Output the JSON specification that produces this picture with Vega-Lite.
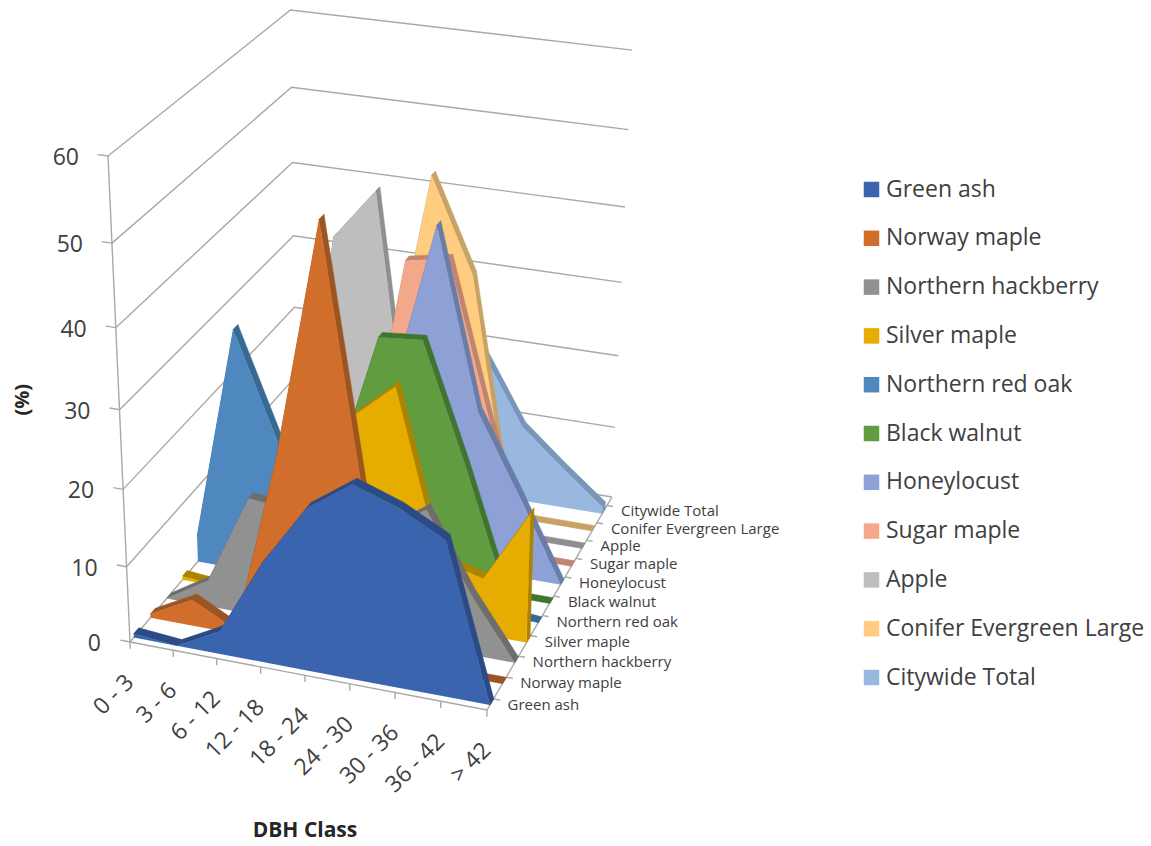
{
"$schema":"https://vega.github.io/schema/vega-lite/v6.json",
"width":1151,"height":846,"padding":0,
"autosize":{"type":"fit","contains":"padding"},
"background":"white",
"config":{"view":{"stroke":null},"text":{"font":"Open Sans"},"legend":{"labelFont":"Open Sans"}},
"datasets":{
"frame":[
{"edge":"grid 0","level":0,"corner":"front left"},{"edge":"grid 0","level":0,"corner":"back left"},{"edge":"grid 0","level":0,"corner":"back right"},
{"edge":"grid 10","level":10,"corner":"front left"},{"edge":"grid 10","level":10,"corner":"back left"},{"edge":"grid 10","level":10,"corner":"back right"},
{"edge":"grid 20","level":20,"corner":"front left"},{"edge":"grid 20","level":20,"corner":"back left"},{"edge":"grid 20","level":20,"corner":"back right"},
{"edge":"grid 30","level":30,"corner":"front left"},{"edge":"grid 30","level":30,"corner":"back left"},{"edge":"grid 30","level":30,"corner":"back right"},
{"edge":"grid 40","level":40,"corner":"front left"},{"edge":"grid 40","level":40,"corner":"back left"},{"edge":"grid 40","level":40,"corner":"back right"},
{"edge":"grid 50","level":50,"corner":"front left"},{"edge":"grid 50","level":50,"corner":"back left"},{"edge":"grid 50","level":50,"corner":"back right"},
{"edge":"grid 60","level":60,"corner":"front left"},{"edge":"grid 60","level":60,"corner":"back left"},{"edge":"grid 60","level":60,"corner":"back right"},
{"edge":"value axis","level":0,"corner":"front left"},{"edge":"value axis","level":60,"corner":"front left"},
{"edge":"dbh axis","level":0,"corner":"front left"},{"edge":"dbh axis","level":0,"corner":"front right"},
{"edge":"species axis","level":0,"corner":"front right"},{"edge":"species axis","level":0,"corner":"back right"}
],
"percentLevels":[{"level":0},{"level":10},{"level":20},{"level":30},{"level":40},{"level":50},{"level":60}],
"dbhClasses":[{"dbh":"0 - 3"},{"dbh":"3 - 6"},{"dbh":"6 - 12"},{"dbh":"12 - 18"},{"dbh":"18 - 24"},{"dbh":"24 - 30"},{"dbh":"30 - 36"},{"dbh":"36 - 42"},{"dbh":"> 42"}],
"speciesList":[{"species":"Green ash"},{"species":"Norway maple"},{"species":"Northern hackberry"},{"species":"Silver maple"},{"species":"Northern red oak"},{"species":"Black walnut"},{"species":"Honeylocust"},{"species":"Sugar maple"},{"species":"Apple"},{"species":"Conifer Evergreen Large"},{"species":"Citywide Total"}],
"shares":[
{"species":"Green ash","dbh":"0 - 3","value":0.5},{"species":"Green ash","dbh":"3 - 6","value":0},{"species":"Green ash","dbh":"6 - 12","value":3},{"species":"Green ash","dbh":"12 - 18","value":13},{"species":"Green ash","dbh":"18 - 24","value":21},{"species":"Green ash","dbh":"24 - 30","value":25},{"species":"Green ash","dbh":"30 - 36","value":23},{"species":"Green ash","dbh":"36 - 42","value":20},{"species":"Green ash","dbh":"> 42","value":0},
{"species":"Norway maple","dbh":"0 - 3","value":0.5},{"species":"Norway maple","dbh":"3 - 6","value":3.5},{"species":"Norway maple","dbh":"6 - 12","value":0.5},{"species":"Norway maple","dbh":"12 - 18","value":24},{"species":"Norway maple","dbh":"18 - 24","value":53.6},{"species":"Norway maple","dbh":"24 - 30","value":18},{"species":"Norway maple","dbh":"30 - 36","value":0},{"species":"Norway maple","dbh":"36 - 42","value":0},{"species":"Norway maple","dbh":"> 42","value":0},
{"species":"Northern hackberry","dbh":"0 - 3","value":0},{"species":"Northern hackberry","dbh":"3 - 6","value":3.5},{"species":"Northern hackberry","dbh":"6 - 12","value":15.5},{"species":"Northern hackberry","dbh":"12 - 18","value":15},{"species":"Northern hackberry","dbh":"18 - 24","value":14},{"species":"Northern hackberry","dbh":"24 - 30","value":14},{"species":"Northern hackberry","dbh":"30 - 36","value":18},{"species":"Northern hackberry","dbh":"36 - 42","value":8},{"species":"Northern hackberry","dbh":"> 42","value":0},
{"species":"Silver maple","dbh":"0 - 3","value":0.5},{"species":"Silver maple","dbh":"3 - 6","value":0},{"species":"Silver maple","dbh":"6 - 12","value":1},{"species":"Silver maple","dbh":"12 - 18","value":10},{"species":"Silver maple","dbh":"18 - 24","value":25.5},{"species":"Silver maple","dbh":"24 - 30","value":30.4},{"species":"Silver maple","dbh":"30 - 36","value":9},{"species":"Silver maple","dbh":"36 - 42","value":7.5},{"species":"Silver maple","dbh":"> 42","value":17},
{"species":"Northern red oak","dbh":"0 - 3","value":3.5},{"species":"Northern red oak","dbh":"3 - 6","value":32},{"species":"Northern red oak","dbh":"6 - 12","value":18},{"species":"Northern red oak","dbh":"12 - 18","value":8},{"species":"Northern red oak","dbh":"18 - 24","value":4},{"species":"Northern red oak","dbh":"24 - 30","value":2},{"species":"Northern red oak","dbh":"30 - 36","value":1},{"species":"Northern red oak","dbh":"36 - 42","value":0.5},{"species":"Northern red oak","dbh":"> 42","value":0},
{"species":"Black walnut","dbh":"0 - 3","value":0},{"species":"Black walnut","dbh":"3 - 6","value":0},{"species":"Black walnut","dbh":"6 - 12","value":2},{"species":"Black walnut","dbh":"12 - 18","value":13},{"species":"Black walnut","dbh":"18 - 24","value":31.5},{"species":"Black walnut","dbh":"24 - 30","value":32},{"species":"Black walnut","dbh":"30 - 36","value":16.7},{"species":"Black walnut","dbh":"36 - 42","value":0},{"species":"Black walnut","dbh":"> 42","value":0},
{"species":"Honeylocust","dbh":"0 - 3","value":0},{"species":"Honeylocust","dbh":"3 - 6","value":0},{"species":"Honeylocust","dbh":"6 - 12","value":1},{"species":"Honeylocust","dbh":"12 - 18","value":5},{"species":"Honeylocust","dbh":"18 - 24","value":23},{"species":"Honeylocust","dbh":"24 - 30","value":44.5},{"species":"Honeylocust","dbh":"30 - 36","value":21.4},{"species":"Honeylocust","dbh":"36 - 42","value":11},{"species":"Honeylocust","dbh":"> 42","value":0},
{"species":"Sugar maple","dbh":"0 - 3","value":0},{"species":"Sugar maple","dbh":"3 - 6","value":0},{"species":"Sugar maple","dbh":"6 - 12","value":1},{"species":"Sugar maple","dbh":"12 - 18","value":7},{"species":"Sugar maple","dbh":"18 - 24","value":37.4},{"species":"Sugar maple","dbh":"24 - 30","value":38.4},{"species":"Sugar maple","dbh":"30 - 36","value":18},{"species":"Sugar maple","dbh":"36 - 42","value":0},{"species":"Sugar maple","dbh":"> 42","value":0},
{"species":"Apple","dbh":"0 - 3","value":0},{"species":"Apple","dbh":"3 - 6","value":0},{"species":"Apple","dbh":"6 - 12","value":37},{"species":"Apple","dbh":"12 - 18","value":43.7},{"species":"Apple","dbh":"18 - 24","value":1},{"species":"Apple","dbh":"24 - 30","value":0},{"species":"Apple","dbh":"30 - 36","value":0},{"species":"Apple","dbh":"36 - 42","value":0},{"species":"Apple","dbh":"> 42","value":0},
{"species":"Conifer Evergreen Large","dbh":"0 - 3","value":0},{"species":"Conifer Evergreen Large","dbh":"3 - 6","value":0},{"species":"Conifer Evergreen Large","dbh":"6 - 12","value":1},{"species":"Conifer Evergreen Large","dbh":"12 - 18","value":16},{"species":"Conifer Evergreen Large","dbh":"18 - 24","value":44.7},{"species":"Conifer Evergreen Large","dbh":"24 - 30","value":32.4},{"species":"Conifer Evergreen Large","dbh":"30 - 36","value":0},{"species":"Conifer Evergreen Large","dbh":"36 - 42","value":0},{"species":"Conifer Evergreen Large","dbh":"> 42","value":0},
{"species":"Citywide Total","dbh":"0 - 3","value":4},{"species":"Citywide Total","dbh":"3 - 6","value":6},{"species":"Citywide Total","dbh":"6 - 12","value":9},{"species":"Citywide Total","dbh":"12 - 18","value":13},{"species":"Citywide Total","dbh":"18 - 24","value":18},{"species":"Citywide Total","dbh":"24 - 30","value":20},{"species":"Citywide Total","dbh":"30 - 36","value":10.5},{"species":"Citywide Total","dbh":"36 - 42","value":5.6},{"species":"Citywide Total","dbh":"> 42","value":1}
]
},
"layer":[
{"data":{"name":"frame"},
 "transform":[
  {"window":[{"op":"row_number","as":"seq"}],"groupby":["edge"]},
  {"calculate":"{'front left':0,'front right':1,'back left':0,'back right':1}[datum.corner]","as":"x_"},
  {"calculate":"{'front left':0,'front right':0,'back left':1,'back right':1}[datum.corner]","as":"d_"},
  {"calculate":"1-0.0386*datum.x_+0.146*datum.d_-0.0843*datum.level/60","as":"w"},
  {"calculate":"(130+338.2*datum.x_+209.5*datum.d_-31.1*datum.level/60)/datum.w","as":"sx"},
  {"calculate":"(642+40.6*datum.x_-132.2*datum.d_-499.15*datum.level/60)/datum.w","as":"sy"}
 ],
 "mark":{"type":"line","stroke":"#a8a8a8","strokeWidth":1.4},
 "encoding":{
  "x":{"field":"sx","type":"quantitative","scale":{"domain":[0,1151],"nice":false,"zero":false},"axis":null},
  "y":{"field":"sy","type":"quantitative","scale":{"domain":[846,0],"nice":false,"zero":false},"axis":null},
  "detail":{"field":"edge"},
  "order":{"field":"seq"}
 }},
{"data":{"name":"percentLevels"},
 "transform":[
  {"calculate":"[0,1]","as":"tip"},{"flatten":["tip"]},
  {"calculate":"datum.tip*-0.028","as":"x_"},
  {"calculate":"1-0.0386*datum.x_-0.0843*datum.level/60","as":"w"},
  {"calculate":"(130+338.2*datum.x_-31.1*datum.level/60)/datum.w","as":"sx"},
  {"calculate":"(642+40.6*datum.x_-499.15*datum.level/60)/datum.w","as":"sy"}
 ],
 "mark":{"type":"line","stroke":"#a8a8a8","strokeWidth":1.4},
 "encoding":{"x":{"field":"sx","type":"quantitative","axis":null},"y":{"field":"sy","type":"quantitative","axis":null},"detail":{"field":"level"},"order":{"field":"tip"}}},
{"data":{"name":"dbhClasses"},
 "transform":[
  {"calculate":"indexof(['0 - 3','3 - 6','6 - 12','12 - 18','18 - 24','24 - 30','30 - 36','36 - 42','> 42'],datum.dbh)/8","as":"x_"},
  {"calculate":"[0,1]","as":"tip"},{"flatten":["tip"]},
  {"calculate":"datum.tip*-0.9","as":"level"},
  {"calculate":"1-0.0386*datum.x_-0.0843*datum.level/60","as":"w"},
  {"calculate":"(130+338.2*datum.x_-31.1*datum.level/60)/datum.w","as":"sx"},
  {"calculate":"(642+40.6*datum.x_-499.15*datum.level/60)/datum.w","as":"sy"}
 ],
 "mark":{"type":"line","stroke":"#a8a8a8","strokeWidth":1.4},
 "encoding":{"x":{"field":"sx","type":"quantitative","axis":null},"y":{"field":"sy","type":"quantitative","axis":null},"detail":{"field":"dbh"},"order":{"field":"tip"}}},
{"data":{"name":"speciesList"},
 "transform":[
  {"calculate":"(indexof(['Green ash','Norway maple','Northern hackberry','Silver maple','Northern red oak','Black walnut','Honeylocust','Sugar maple','Apple','Conifer Evergreen Large','Citywide Total'],datum.species)+0.5)/11","as":"d_"},
  {"calculate":"[0,1]","as":"tip"},{"flatten":["tip"]},
  {"calculate":"1+datum.tip*0.018","as":"x_"},
  {"calculate":"1-0.0386*datum.x_+0.146*datum.d_","as":"w"},
  {"calculate":"(130+338.2*datum.x_+209.5*datum.d_)/datum.w","as":"sx"},
  {"calculate":"(642+40.6*datum.x_-132.2*datum.d_)/datum.w","as":"sy"}
 ],
 "mark":{"type":"line","stroke":"#a8a8a8","strokeWidth":1.4},
 "encoding":{"x":{"field":"sx","type":"quantitative","axis":null},"y":{"field":"sy","type":"quantitative","axis":null},"detail":{"field":"species"},"order":{"field":"tip"}}},
{"data":{"name":"shares"},
 "transform":[
  {"calculate":"indexof(['0 - 3','3 - 6','6 - 12','12 - 18','18 - 24','24 - 30','30 - 36','36 - 42','> 42'],datum.dbh)","as":"k"},
  {"calculate":"indexof(['Green ash','Norway maple','Northern hackberry','Silver maple','Northern red oak','Black walnut','Honeylocust','Sugar maple','Apple','Conifer Evergreen Large','Citywide Total'],datum.species)","as":"i"},
  {"window":[{"op":"lead","field":"value","as":"next"}],"groupby":["species"],"sort":[{"field":"k","order":"ascending"}]},
  {"calculate":"datum.k<8?['r0','r1','r2','r3','ft','fb']:['c0','c1','c2','c3','ft','fb']","as":"vert"},
  {"flatten":["vert"]},
  {"calculate":"(datum.vert==='ft'||datum.vert==='fb')?'face':'side'","as":"part"},
  {"calculate":"datum.part==='face'?'face':'seg'+datum.k","as":"poly"},
  {"calculate":"(datum.vert==='r1'||datum.vert==='r2')?(datum.k+1)/8:datum.k/8","as":"x_"},
  {"calculate":"0.02+0.089*datum.i+((datum.vert==='r2'||datum.vert==='r3'||datum.vert==='c1'||datum.vert==='c2')?0.027:0)","as":"d_"},
  {"calculate":"(datum.vert==='fb'||datum.vert==='c0'||datum.vert==='c1')?0:((datum.vert==='r1'||datum.vert==='r2')?datum.next:datum.value)","as":"level"},
  {"calculate":"datum.vert==='ft'?datum.k:(datum.vert==='fb'?100-datum.k:toNumber(substring(datum.vert,1)))","as":"seq"},
  {"calculate":"1-0.0386*datum.x_+0.146*datum.d_-0.0843*datum.level/60","as":"w"},
  {"calculate":"(130+338.2*datum.x_+209.5*datum.d_-31.1*datum.level/60)/datum.w","as":"sx"},
  {"calculate":"(642+40.6*datum.x_-132.2*datum.d_-499.15*datum.level/60)/datum.w","as":"sy"}
 ],
 "encoding":{
  "x":{"field":"sx","type":"quantitative","axis":null},
  "y":{"field":"sy","type":"quantitative","axis":null},
  "detail":{"field":"poly"},
  "order":{"field":"seq"},
  "fill":{"field":"species","type":"nominal",
   "scale":{"domain":["Green ash","Norway maple","Northern hackberry","Silver maple","Northern red oak","Black walnut","Honeylocust","Sugar maple","Apple","Conifer Evergreen Large","Citywide Total"],
            "range":["#3a64ad","#d16e2b","#919191","#e6ac00","#4f88bf","#629c41","#8ea1d6","#f3a88c","#bebebe","#ffcc80","#98b8e0"]},
   "legend":{"title":null,"orient":"none","legendX":860,"legendY":178,"symbolType":"square","symbolSize":240,"symbolStrokeWidth":0,"symbolOpacity":1,"labelFontSize":23,"labelColor":"#404040","labelOffset":3,"rowPadding":24.8,"labelLimit":300}}
 },
 "layer":[
  {"transform":[{"filter":"datum.i===10&&datum.part==='side'"}],"mark":{"type":"line","interpolate":"linear-closed","stroke":"#7896bc","strokeWidth":0.5},"encoding":{"fill":{"value":"#7896bc"}}},
  {"transform":[{"filter":"datum.i===10&&datum.part==='face'"}],"mark":{"type":"line","interpolate":"linear-closed","strokeWidth":0}},
  {"transform":[{"filter":"datum.i===9&&datum.part==='side'"}],"mark":{"type":"line","interpolate":"linear-closed","stroke":"#c8a265","strokeWidth":0.5},"encoding":{"fill":{"value":"#c8a265"}}},
  {"transform":[{"filter":"datum.i===9&&datum.part==='face'"}],"mark":{"type":"line","interpolate":"linear-closed","strokeWidth":0}},
  {"transform":[{"filter":"datum.i===8&&datum.part==='side'"}],"mark":{"type":"line","interpolate":"linear-closed","stroke":"#8f8f8f","strokeWidth":0.5},"encoding":{"fill":{"value":"#8f8f8f"}}},
  {"transform":[{"filter":"datum.i===8&&datum.part==='face'"}],"mark":{"type":"line","interpolate":"linear-closed","strokeWidth":0}},
  {"transform":[{"filter":"datum.i===7&&datum.part==='side'"}],"mark":{"type":"line","interpolate":"linear-closed","stroke":"#c08571","strokeWidth":0.5},"encoding":{"fill":{"value":"#c08571"}}},
  {"transform":[{"filter":"datum.i===7&&datum.part==='face'"}],"mark":{"type":"line","interpolate":"linear-closed","strokeWidth":0}},
  {"transform":[{"filter":"datum.i===6&&datum.part==='side'"}],"mark":{"type":"line","interpolate":"linear-closed","stroke":"#6a7da8","strokeWidth":0.5},"encoding":{"fill":{"value":"#6a7da8"}}},
  {"transform":[{"filter":"datum.i===6&&datum.part==='face'"}],"mark":{"type":"line","interpolate":"linear-closed","strokeWidth":0}},
  {"transform":[{"filter":"datum.i===5&&datum.part==='side'"}],"mark":{"type":"line","interpolate":"linear-closed","stroke":"#3f7531","strokeWidth":0.5},"encoding":{"fill":{"value":"#3f7531"}}},
  {"transform":[{"filter":"datum.i===5&&datum.part==='face'"}],"mark":{"type":"line","interpolate":"linear-closed","strokeWidth":0}},
  {"transform":[{"filter":"datum.i===4&&datum.part==='side'"}],"mark":{"type":"line","interpolate":"linear-closed","stroke":"#376a93","strokeWidth":0.5},"encoding":{"fill":{"value":"#376a93"}}},
  {"transform":[{"filter":"datum.i===4&&datum.part==='face'"}],"mark":{"type":"line","interpolate":"linear-closed","strokeWidth":0}},
  {"transform":[{"filter":"datum.i===3&&datum.part==='side'"}],"mark":{"type":"line","interpolate":"linear-closed","stroke":"#ac8400","strokeWidth":0.5},"encoding":{"fill":{"value":"#ac8400"}}},
  {"transform":[{"filter":"datum.i===3&&datum.part==='face'"}],"mark":{"type":"line","interpolate":"linear-closed","strokeWidth":0}},
  {"transform":[{"filter":"datum.i===2&&datum.part==='side'"}],"mark":{"type":"line","interpolate":"linear-closed","stroke":"#6e6e6e","strokeWidth":0.5},"encoding":{"fill":{"value":"#6e6e6e"}}},
  {"transform":[{"filter":"datum.i===2&&datum.part==='face'"}],"mark":{"type":"line","interpolate":"linear-closed","strokeWidth":0}},
  {"transform":[{"filter":"datum.i===1&&datum.part==='side'"}],"mark":{"type":"line","interpolate":"linear-closed","stroke":"#9c5520","strokeWidth":0.5},"encoding":{"fill":{"value":"#9c5520"}}},
  {"transform":[{"filter":"datum.i===1&&datum.part==='face'"}],"mark":{"type":"line","interpolate":"linear-closed","strokeWidth":0}},
  {"transform":[{"filter":"datum.i===0&&datum.part==='side'"}],"mark":{"type":"line","interpolate":"linear-closed","stroke":"#2a4b85","strokeWidth":0.5},"encoding":{"fill":{"value":"#2a4b85"}}},
  {"transform":[{"filter":"datum.i===0&&datum.part==='face'"}],"mark":{"type":"line","interpolate":"linear-closed","strokeWidth":0}}
 ]},
{"data":{"name":"percentLevels"},
 "transform":[
  {"calculate":"1-0.0843*datum.level/60","as":"w"},
  {"calculate":"(130-31.1*datum.level/60)/datum.w","as":"sx"},
  {"calculate":"(642-499.15*datum.level/60)/datum.w","as":"sy"}
 ],
 "mark":{"type":"text","align":"right","baseline":"middle","dx":-29,"dy":2,"fontSize":23,"fill":"#404040"},
 "encoding":{"x":{"field":"sx","type":"quantitative","axis":null},"y":{"field":"sy","type":"quantitative","axis":null},"text":{"field":"level"}}},
{"data":{"name":"dbhClasses"},
 "transform":[
  {"calculate":"indexof(['0 - 3','3 - 6','6 - 12','12 - 18','18 - 24','24 - 30','30 - 36','36 - 42','> 42'],datum.dbh)/8","as":"x_"},
  {"calculate":"1-0.0386*datum.x_","as":"w"},
  {"calculate":"(130+338.2*datum.x_)/datum.w","as":"sx"},
  {"calculate":"(642+40.6*datum.x_)/datum.w","as":"sy"}
 ],
 "mark":{"type":"text","align":"right","baseline":"middle","angle":315,"dx":-26,"dy":26,"fontSize":23,"fill":"#404040"},
 "encoding":{"x":{"field":"sx","type":"quantitative","axis":null},"y":{"field":"sy","type":"quantitative","axis":null},"text":{"field":"dbh"}}},
{"data":{"name":"speciesList"},
 "transform":[
  {"calculate":"(indexof(['Green ash','Norway maple','Northern hackberry','Silver maple','Northern red oak','Black walnut','Honeylocust','Sugar maple','Apple','Conifer Evergreen Large','Citywide Total'],datum.species)+0.5)/11","as":"d_"},
  {"calculate":"0.9614+0.146*datum.d_","as":"w"},
  {"calculate":"(468.2+209.5*datum.d_)/datum.w","as":"sx"},
  {"calculate":"(682.6-132.2*datum.d_)/datum.w","as":"sy"}
 ],
 "mark":{"type":"text","align":"left","baseline":"middle","dx":14,"dy":6,"fontSize":15,"fill":"#404040"},
 "encoding":{"x":{"field":"sx","type":"quantitative","axis":null},"y":{"field":"sy","type":"quantitative","axis":null},"text":{"field":"species"}}},
{"data":{"values":[{"caption":"DBH Class"}]},
 "transform":[
  {"calculate":"(130+169.1)/0.9807","as":"sx"},
  {"calculate":"(642+20.3)/0.9807","as":"sy"}
 ],
 "mark":{"type":"text","align":"center","baseline":"middle","dy":156,"fontSize":21,"fontWeight":"bold","fill":"#262626"},
 "encoding":{"x":{"field":"sx","type":"quantitative","axis":null},"y":{"field":"sy","type":"quantitative","axis":null},"text":{"field":"caption"}}},
{"data":{"values":[{"caption":"(%)","level":30}]},
 "transform":[
  {"calculate":"1-0.0843*datum.level/60","as":"w"},
  {"calculate":"(130-31.1*datum.level/60)/datum.w","as":"sx"},
  {"calculate":"(642-499.15*datum.level/60)/datum.w","as":"sy"}
 ],
 "mark":{"type":"text","align":"center","baseline":"middle","angle":270,"dx":10,"dy":-96,"fontSize":20,"fontWeight":"bold","fill":"#262626"},
 "encoding":{"x":{"field":"sx","type":"quantitative","axis":null},"y":{"field":"sy","type":"quantitative","axis":null},"text":{"field":"caption"}}}
]
}
